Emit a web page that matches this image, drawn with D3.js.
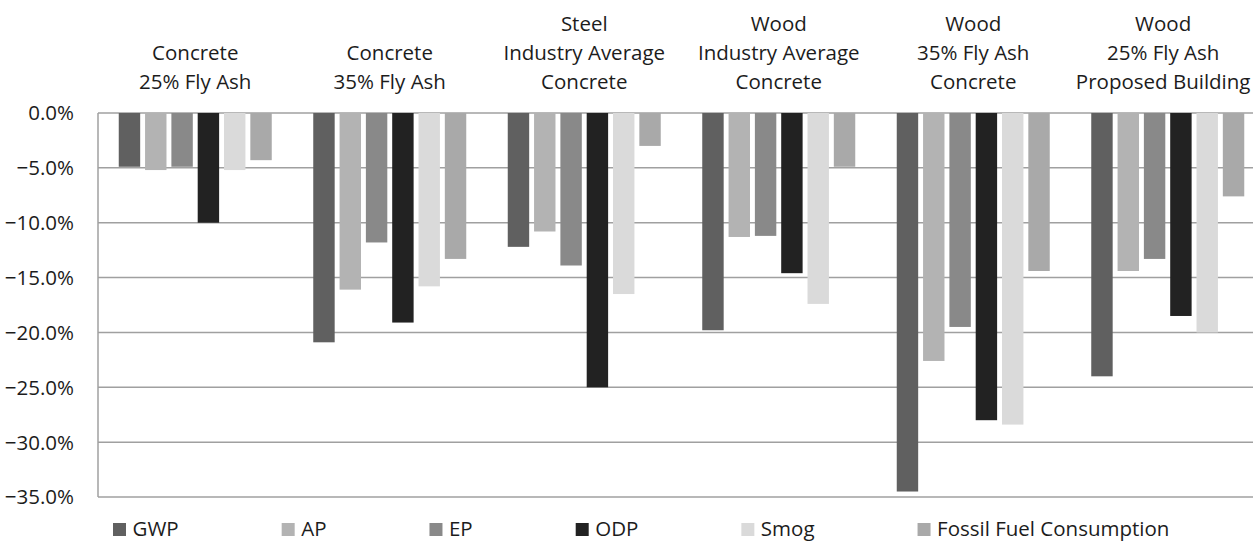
<!DOCTYPE html>
<html>
<head>
<meta charset="utf-8">
<script src="https://cdn.jsdelivr.net/npm/d3@7"></script>
<style>
  body { margin: 0; background: #fff; }
  svg { display: block; font-family: "Open Sans", sans-serif; }
</style>
</head>
<body>
<svg id="chart"></svg>
<script>
// categories (multi-line labels)
const categories = [
  ['Concrete', '25% Fly Ash'],
  ['Concrete', '35% Fly Ash'],
  ['Steel', 'Industry Average', 'Concrete'],
  ['Wood', 'Industry Average', 'Concrete'],
  ['Wood', '35% Fly Ash', 'Concrete'],
  ['Wood', '25% Fly Ash', 'Proposed Building']
];
const series = ['GWP', 'AP', 'EP', 'ODP', 'Smog', 'Fossil Fuel Consumption'];
const colors = ['#606060', '#b3b3b3', '#898989', '#222222', '#dadada', '#a9a9a9'];

// percent change per series, one value per category
const gwp  = [-4.9, -20.9, -12.2, -19.8, -34.5, -24.0];
const ap   = [-5.2, -16.1, -10.8, -11.3, -22.6, -14.4];
const ep   = [-4.9, -11.8, -13.9, -11.2, -19.5, -13.3];
const odp  = [-10.0, -19.1, -25.0, -14.6, -28.0, -18.5];
const smog = [-5.2, -15.8, -16.5, -17.4, -28.4, -20.0];
const ffc  = [-4.3, -13.3, -3.0, -4.9, -14.4, -7.6];
const yTicks = [0, -5, -10, -15, -20, -25, -30, -35];

const values = [gwp, ap, ep, odp, smog, ffc];

// dimensions
const W = 1253, H = 542;
const margin = { top: 113, left: 98 };
const plotW = 1167;       // plot runs past the right edge, as in the original
const plotH = 384;
const textColor = '#1c1c1c';

const svg = d3.select('#chart').attr('width', W).attr('height', H);
const g = svg.append('g').attr('transform', `translate(${margin.left},${margin.top})`);

// scales
const catKeys = categories.map((c, i) => i);
const x0 = d3.scaleBand().domain(catKeys).range([0, plotW]).padding(0);
const x1 = d3.scaleBand().domain(series)
  .range([20.75, x0.bandwidth() - 20.75])
  .paddingInner(0.186).paddingOuter(0);
const y = d3.scaleLinear().domain([-35, 0]).range([plotH, 0]);

// gridlines
g.selectAll('.grid')
  .data(yTicks)
  .enter()
  .append('line')
  .attr('x1', 0).attr('x2', plotW)
  .attr('y1', d => y(d)).attr('y2', d => y(d))
  .attr('stroke', '#a0a0a0')
  .attr('stroke-width', 1.5);

// left axis line
g.append('line')
  .attr('x1', 0).attr('x2', 0)
  .attr('y1', y(0)).attr('y2', y(-35))
  .attr('stroke', '#a0a0a0')
  .attr('stroke-width', 1.5);

// y tick labels
g.selectAll('.ytick')
  .data(yTicks)
  .enter()
  .append('text')
  .attr('x', -24)
  .attr('y', d => y(d))
  .attr('dy', '0.36em')
  .attr('text-anchor', 'end')
  .style('font-size', '20.5px')
  .style('fill', textColor)
  .text(d => d3.format('.1f')(d) + '%');

// bars
const rows = [];
categories.forEach((c, ci) => {
  series.forEach((s, si) => rows.push({ ci, s, si, v: values[si][ci] }));
});

g.selectAll('.bar')
  .data(rows)
  .enter()
  .append('rect')
  .attr('x', d => x0(d.ci) + x1(d.s))
  .attr('y', y(0))
  .attr('width', x1.bandwidth())
  .attr('height', d => y(d.v) - y(0))
  .attr('fill', d => colors[d.si]);

// category labels on top, bottom-aligned; kept inside the picture like Excel does
const lineH = 28.8;
categories.forEach((lines, ci) => {
  const t = svg.append('text')
    .attr('text-anchor', 'middle')
    .style('font-size', '20.5px')
    .style('fill', textColor);
  const cx = margin.left + x0(ci) + x0.bandwidth() / 2;
  lines.forEach((ln, li) => {
    t.append('tspan')
      .attr('x', cx)
      .attr('y', 88.5 - (lines.length - 1 - li) * lineH)
      .text(ln);
  });
  const bb = t.node().getBBox();
  const over = bb.x + bb.width - (W - 2.5);
  if (over > 0) t.attr('transform', `translate(${-over},0)`);
});

// legend
const legend = svg.append('g').attr('transform', 'translate(113,523)');
let lx = 0;
series.forEach((s, i) => {
  const item = legend.append('g').attr('transform', `translate(${lx},0)`);
  item.append('rect')
    .attr('width', 13).attr('height', 13)
    .attr('fill', colors[i]);
  const txt = item.append('text')
    .attr('x', 19.5)
    .attr('y', 13)
    .style('font-size', '20.5px')
    .style('fill', textColor)
    .text(s);
  lx += 19.5 + txt.node().getComputedTextLength() + 103;
});
</script>
</body>
</html>
